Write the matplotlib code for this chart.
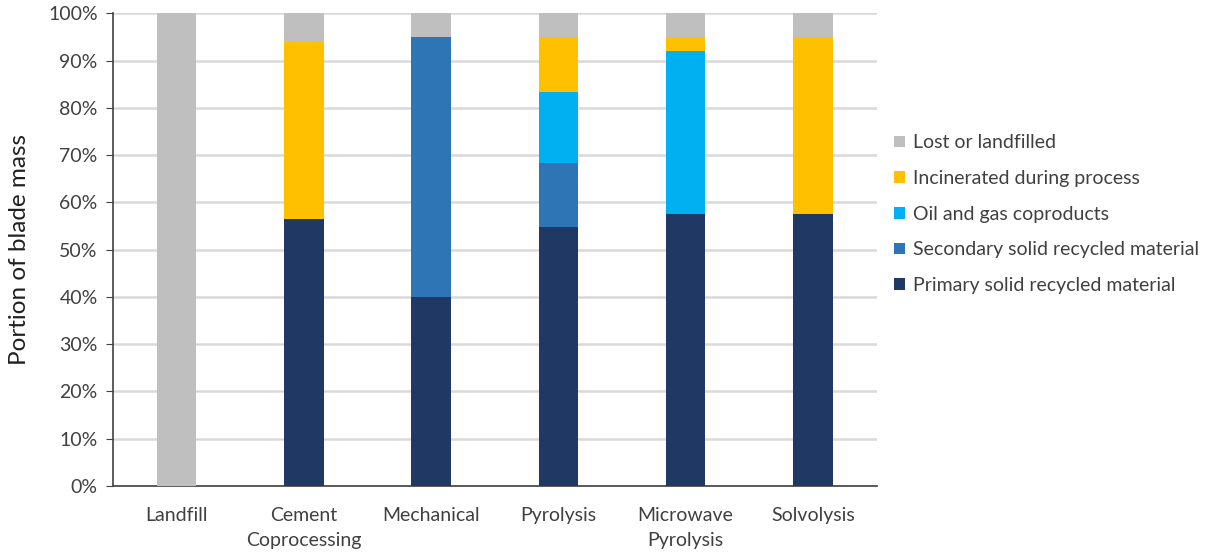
import matplotlib.pyplot as plt
import numpy as np
from matplotlib.ticker import PercentFormatter

plt.rcParams['font.family'] = ['Lato', 'DejaVu Sans']

# Data (portion of blade mass, %)
categories = ['Landfill', 'Cement\nCoprocessing', 'Mechanical', 'Pyrolysis',
              'Microwave\nPyrolysis', 'Solvolysis']
primary = [0, 56.4, 40.0, 54.8, 57.5, 57.5]
secondary = [0, 0, 55.1, 13.6, 0, 0]
oil_gas = [0, 0, 0, 14.9, 34.5, 0]
incinerated = [0, 37.5, 0, 11.8, 3.1, 37.6]
lost = [100, 6.1, 4.9, 4.9, 4.9, 4.9]

series = [
    ('Primary solid recycled material', primary, '#203864'),
    ('Secondary solid recycled material', secondary, '#2E75B6'),
    ('Oil and gas coproducts', oil_gas, '#00B0F0'),
    ('Incinerated during process', incinerated, '#FFC000'),
    ('Lost or landfilled', lost, '#BFBFBF'),
]

fig = plt.figure(figsize=(12.12, 5.52), dpi=100)
ax = fig.add_axes([0.0932, 0.1196, 0.630, 0.856])

x = np.arange(len(categories))
bottom = np.zeros(len(categories))
handles = []
for name, vals, color in series:
    b = ax.bar(x, vals, 0.31, bottom=bottom, color=color, label=name, zorder=3)
    handles.append(b)
    bottom += np.array(vals)

ax.set_ylim(0, 100)
ax.set_xlim(-0.5, len(categories) - 0.5)
ax.yaxis.set_major_formatter(PercentFormatter(decimals=0))
ax.set_yticks(np.arange(0, 101, 10))
ax.set_xticks(x)
ax.set_xticklabels(categories, fontsize=14, color='#404040', linespacing=1.6)
ax.tick_params(axis='x', length=0, pad=15)
ax.tick_params(axis='y', labelsize=14, labelcolor='#404040', length=5,
               color='#404040', direction='out', pad=6)
ax.grid(axis='y', color='#D9D9D9', linewidth=1.8, zorder=0)
for s in ['top', 'right']:
    ax.spines[s].set_visible(False)
for s in ['left', 'bottom']:
    ax.spines[s].set_color('#404040')
    ax.spines[s].set_linewidth(1.2)
ax.set_ylabel('Portion of blade mass', fontsize=17.5, color='#202020')
ax.yaxis.set_label_coords(-0.108, 0.5)

ax.legend(handles[::-1], [h.get_label() for h in handles[::-1]],
          loc='center left', bbox_to_anchor=(1.0, 0.575), frameon=False,
          fontsize=14, handlelength=0.55, handleheight=0.55, handletextpad=0.45,
          labelspacing=0.96, labelcolor='#404040')

fig.savefig('out.png', dpi=100)
